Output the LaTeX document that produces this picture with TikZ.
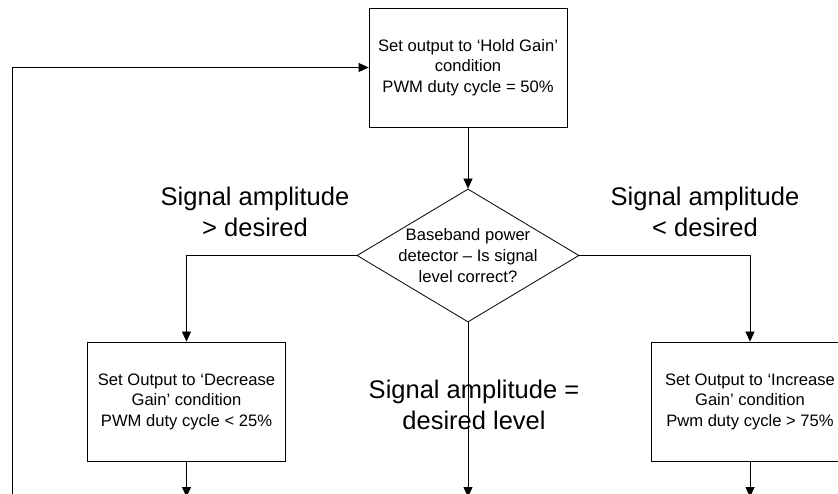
\documentclass[tikz,border=0pt]{standalone}
\usepackage{fontspec}
\setmainfont{Liberation Sans}
\usetikzlibrary{shapes.geometric,arrows.meta}
\begin{document}
\begin{tikzpicture}[x=1pt,y=-1pt,
  boxstyle/.style={draw,line width=0.8pt,rectangle,minimum width=198pt,minimum height=119pt,inner sep=0pt,align=center,font=\fontsize{16.6}{20.5}\selectfont},
  diastyle/.style={draw,line width=0.8pt,diamond,minimum width=222pt,minimum height=133pt,inner sep=0pt},
  smalltext/.style={align=center,inner sep=0pt,font=\fontsize{16.6}{21}\selectfont},
  bigtext/.style={align=center,inner sep=0pt,font=\fontsize{25.5}{30.5}\selectfont},
  conn/.style={line width=0.8pt,-{Triangle[length=10pt,width=9pt]}},
  plainline/.style={line width=0.8pt}]
\useasboundingbox (0,0) rectangle (838,494);
\clip (0,0) rectangle (838,494);
\node[boxstyle] (hold) at (468,67.5) {Set output to ‘Hold Gain’\\condition\\PWM duty cycle = 50\%};
\node[diastyle] (dia) at (468,255.5) {};
\node[smalltext] (diatext) at (468,256) {Baseband power\\detector – Is signal\\level correct?};
\node[boxstyle] (dec) at (186.5,401.5) {Set Output to ‘Decrease\\Gain’ condition\\PWM duty cycle < 25\%};
\node[boxstyle] (inc) at (750,401.5) {Set Output to ‘Increase\\Gain’ condition\\Pwm duty cycle > 75\%};
\node[bigtext] (lgt) at (255,212) {Signal amplitude\\> desired};
\node[bigtext] (llt) at (705,212) {Signal amplitude\\< desired};
\node[bigtext] (leq) at (474,405) {Signal amplitude =\\desired level};
\coordinate (lt) at (12,67.5);
\coordinate (lb) at (12,500);
\coordinate (mb) at (468,497);
\coordinate (db) at (186.5,497);
\coordinate (ib) at (750,497);
\draw[conn] (lb) -- (lt) -- (hold.west);
\draw[conn] (hold.south) -- (dia.north);
\draw[conn] (dia.west) -| (dec.north);
\draw[conn] (dia.east) -| (inc.north);
\draw[conn] (dia.south) -- (mb);
\draw[conn] (dec.south) -- (db);
\draw[conn] (inc.south) -- (ib);
\end{tikzpicture}
\end{document}
